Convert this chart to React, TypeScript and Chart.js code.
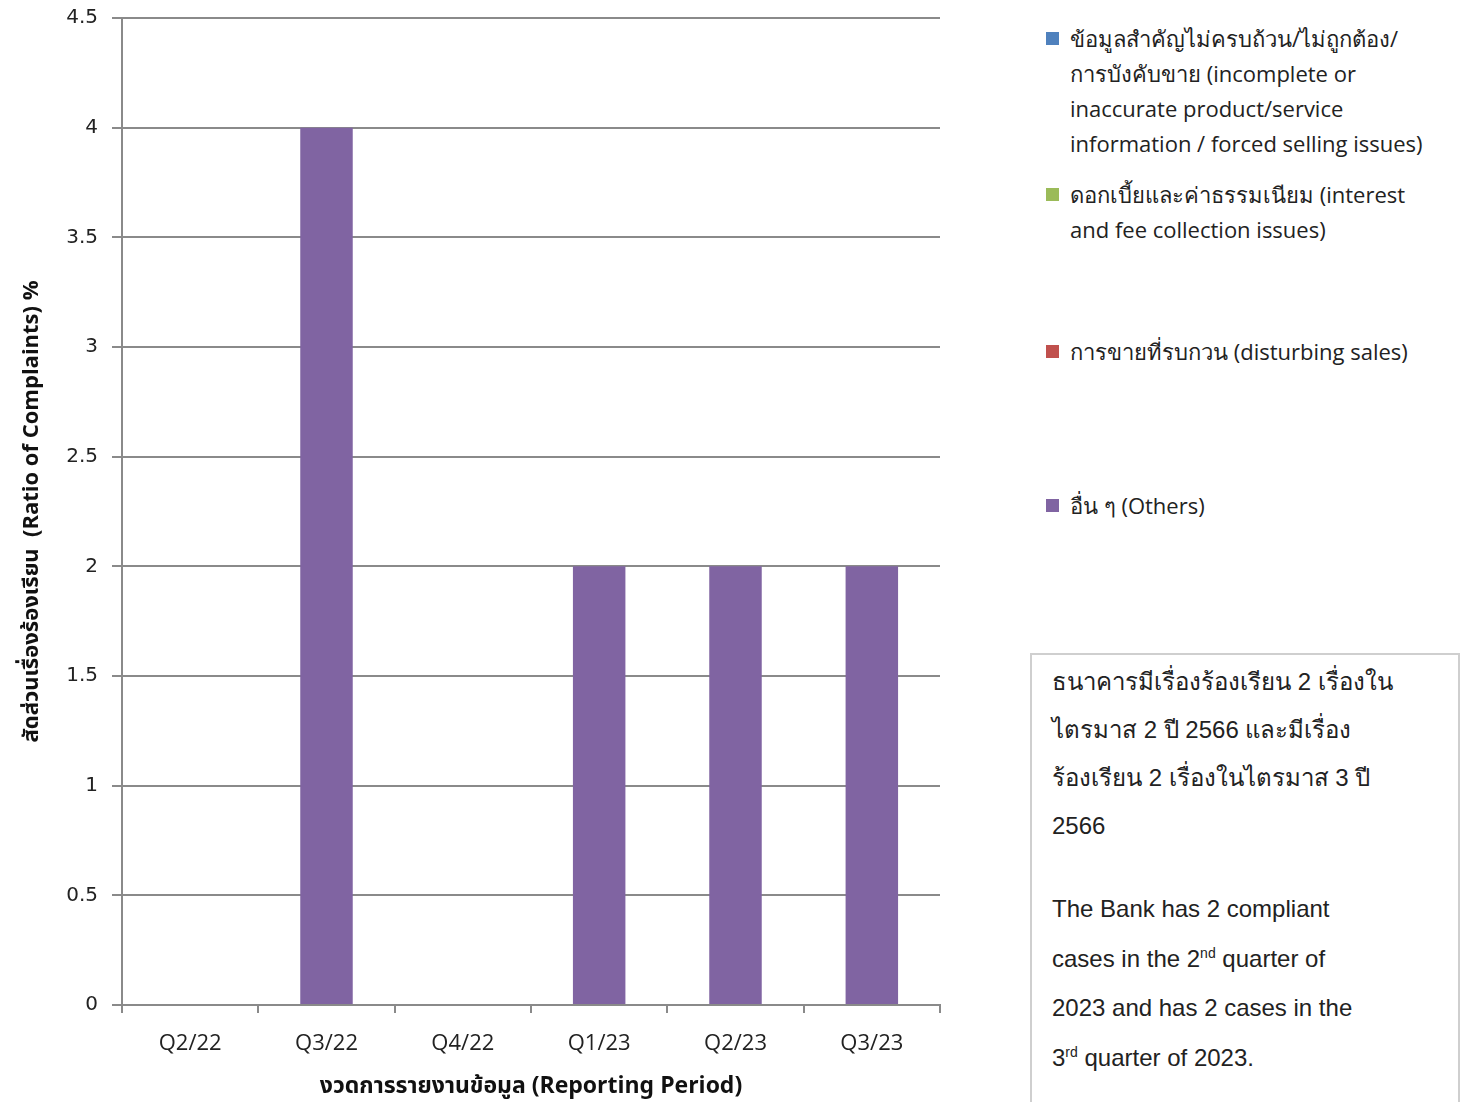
import React, { useEffect, useRef } from "react";
import { Chart, registerables } from "chart.js";

Chart.register(...registerables);

const categories = ["Q2/22", "Q3/22", "Q4/22", "Q1/23", "Q2/23", "Q3/23"];
const seriesNames = [
  "ข้อมูลสำคัญไม่ครบถ้วน/ไม่ถูกต้อง/การบังคับขาย (incomplete or inaccurate product/service information / forced selling issues)",
  "ดอกเบี้ยและค่าธรรมเนียม (interest and fee collection issues)",
  "การขายที่รบกวน (disturbing sales)",
  "อื่น ๆ (Others)",
];
const infoValues = [0, 0, 0, 0, 0, 0];
const feeValues = [0, 0, 0, 0, 0, 0];
const salesValues = [0, 0, 0, 0, 0, 0];
const otherValues = [0, 4, 0, 2, 2, 2];
const seriesColors = ["#4F81BD", "#9BBB59", "#C0504D", "#8064A2"];
const yTicks = [0, 0.5, 1, 1.5, 2, 2.5, 3, 3.5, 4, 4.5];

const thaiFont = "'Noto Sans Thai', 'Noto Sans', 'DejaVu Sans', sans-serif";

export default function App() {
  const ref = useRef<HTMLCanvasElement | null>(null);

  useEffect(() => {
    document.body.style.margin = "0";
    const ctx = ref.current!;
    const allSeries = [infoValues, feeValues, salesValues, otherValues];
    const chart = new Chart(ctx, {
      type: "bar",
      data: {
        labels: categories,
        datasets: allSeries.map((vals, i) => ({
          label: seriesNames[i],
          data: vals,
          backgroundColor: seriesColors[i],
          borderWidth: 0,
          barPercentage: 0.385,
          categoryPercentage: 1,
        })),
      },
      options: {
        animation: false,
        responsive: false,
        maintainAspectRatio: false,
        layout: { padding: { top: 18, right: 20, left: 0, bottom: 0 } },
        plugins: {
          legend: { display: false },
          tooltip: { enabled: false },
        },
        scales: {
          x: {
            stacked: true,
            afterFit: (s: any) => {
              s.height = 97;
              s.paddingLeft = 0;
              s.paddingRight = 0;
            },
            grid: {
              drawOnChartArea: false,
              drawTicks: true,
              tickLength: 8,
              color: "#8a8a8a",
              lineWidth: 2,
              offset: true,
            },
            border: { color: "#8a8a8a", width: 2 },
            ticks: {
              padding: 18,
              color: "#222",
              font: { family: "'Open Sans', 'Noto Sans', sans-serif", size: 22 },
            },
            title: {
              display: true,
              text: "งวดการรายงานข้อมูล (Reporting Period)",
              color: "#111",
              font: { family: thaiFont, size: 23, weight: "bold" },
              padding: { top: 0, bottom: 0 },
            },
          },
          y: {
            stacked: true,
            min: 0,
            max: 4.5,
            afterFit: (s: any) => {
              s.width = 122;
              s.paddingTop = 0;
              s.paddingBottom = 0;
            },
            afterBuildTicks: (s: any) => {
              s.ticks = yTicks.map((v) => ({ value: v }));
            },
            grid: {
              color: "#8a8a8a",
              lineWidth: 2,
              tickLength: 10,
              drawTicks: true,
            },
            border: { color: "#8a8a8a", width: 2 },
            ticks: {
              padding: 14,
              color: "#222",
              font: { family: "'DejaVu Sans', Verdana, sans-serif", size: 20 },
              callback: (v: any) => String(v),
            },
            title: {
              display: true,
              text: "สัดส่วนเรื่องร้องเรียน  (Ratio of Complaints) %",
              color: "#111",
              font: { family: thaiFont, size: 22, weight: "bold" },
              padding: { top: 20, bottom: 4 },
            },
          },
        },
      },
    } as any);
    return () => chart.destroy();
  }, []);

  const legendItems = [
    { top: 20, lines: ["ข้อมูลสำคัญไม่ครบถ้วน/ไม่ถูกต้อง/", "การบังคับขาย  (incomplete or", "inaccurate product/service", "information / forced selling issues)"] },
    { top: 176, lines: ["ดอกเบี้ยและค่าธรรมเนียม  (interest", "and fee  collection issues)"] },
    { top: 333, lines: ["การขายที่รบกวน  (disturbing sales)"] },
    { top: 487, lines: ["อื่น ๆ (Others)"] },
  ];

  const boxLines = [
    "ธนาคารมีเรื่องร้องเรียน  2 เรื่องใน",
    "ไตรมาส 2 ปี 2566  และมีเรื่อง",
    "ร้องเรียน 2 เรื่องในไตรมาส 3 ปี",
    "2566",
  ];

  return (
    <div
      style={{
        position: "fixed",
        left: 0,
        top: 0,
        width: 1484,
        height: 1102,
        background: "#fff",
        overflow: "hidden",
      }}
    >
      <canvas
        ref={ref}
        width={960}
        height={1102}
        style={{ position: "absolute", left: 0, top: 0, width: 960, height: 1102 }}
      />
      {legendItems.map((item, i) => (
        <div key={i} style={{ position: "absolute", left: 1046, top: item.top }}>
          <div
            style={{
              position: "absolute",
              left: 0,
              top: 12,
              width: 13,
              height: 13,
              background: seriesColors[i],
            }}
          />
          {item.lines.map((l, j) => (
            <div
              key={j}
              style={{
                position: "absolute",
                left: 24,
                top: j * 35,
                whiteSpace: "nowrap",
                fontFamily: "'Open Sans', 'Noto Sans', sans-serif",
                fontSize: 22,
                lineHeight: "36px",
                color: "#222",
              }}
            >
              {l}
            </div>
          ))}
        </div>
      ))}
      <div
        style={{
          position: "absolute",
          left: 1030,
          top: 653,
          width: 430,
          height: 470,
          border: "2px solid #cfcfcf",
          boxSizing: "border-box",
          fontFamily: "'Liberation Sans', Arial, sans-serif",
          fontSize: 24,
          color: "#222",
        }}
      >
        {boxLines.map((l, j) => (
          <div
            key={j}
            style={{ position: "absolute", left: 20, top: 3 + j * 48, lineHeight: "48px", whiteSpace: "nowrap" }}
          >
            {l}
          </div>
        ))}
        <div style={{ position: "absolute", left: 20, top: 229, lineHeight: "49.5px", whiteSpace: "nowrap" }}>
          <div>The Bank has  2 compliant</div>
          <div>
            cases in the 2<sup style={{ fontSize: 14, lineHeight: 0 }}>nd</sup> quarter  of
          </div>
          <div>2023 and  has 2 cases in the</div>
          <div>
            3<sup style={{ fontSize: 14, lineHeight: 0 }}>rd</sup> quarter  of 2023.
          </div>
        </div>
      </div>
    </div>
  );
}
